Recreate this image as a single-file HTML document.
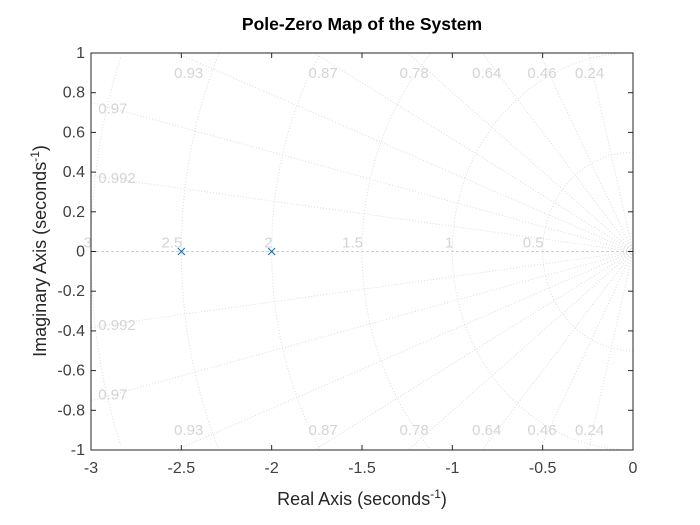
<!DOCTYPE html>
<html><head><meta charset="utf-8"><style>
html,body{margin:0;padding:0;background:#fff;overflow:hidden;width:700px;height:525px}
body{position:relative}
svg{display:block;position:absolute;left:0;top:0;font-family:"Liberation Sans",Arial,sans-serif}
</style></head><body>
<svg id="chart" width="700" height="525"></svg>
<script>
const poleReals=[-2.5,-2];
const poleImags=[0,0];
const dampingValues=[0.24,0.46,0.64,0.78,0.87,0.93,0.97,0.992];
const freqValues=[0.5,1,1.5,2,2.5,3];
const xTicks=[-3,-2.5,-2,-1.5,-1,-0.5,0];
const yTicks=[-1,-0.8,-0.6,-0.4,-0.2,0,0.2,0.4,0.6,0.8,1];

const L=91,R=633,T=53,B=450,xMin=-3,xMax=0,yMin=-1,yMax=1;
const X=v=>L+(v-xMin)/(xMax-xMin)*(R-L);
const Y=v=>B-(v-yMin)/(yMax-yMin)*(B-T);
const svg=document.getElementById('chart');
const NS='http://www.w3.org/2000/svg';
function mk(tag,attrs,parent){const e=document.createElementNS(NS,tag);for(const k in attrs)e.setAttribute(k,attrs[k]);(parent||svg).appendChild(e);return e;}

const grid=mk('g',{});


const gs={stroke:'#dcdcdc','stroke-width':1,'stroke-dasharray':'1,2',fill:'none'};
dampingValues.forEach(z=>{
  const th=Math.acos(z);
  const c=Math.cos(th),s0=Math.sin(th);
  const r=Math.min(-xMin/c, yMax/s0);
  [1,-1].forEach(s=>{
    const l=mk('line',Object.assign({x1:X(0),y1:Y(0),x2:X(-r*c),y2:Y(s*r*s0)},gs),grid);
    
    
  });
});
freqValues.forEach(w=>{
  let segs=[],cur=[];
  for(let i=0;i<=360;i++){
    const a=Math.PI/2+Math.PI*i/360;
    const x=w*Math.cos(a),y=w*Math.sin(a);
    if(x>=xMin-1e-9&&y<=yMax&&y>=yMin){cur.push(X(x).toFixed(2)+','+Y(y).toFixed(2));}
    else if(cur.length){segs.push(cur);cur=[];}
  }
  if(cur.length)segs.push(cur);
  segs.forEach(sg=>{
    const p=mk('polyline',Object.assign({points:sg.join(' ')},gs),grid);
    
    
  });
});
const zl=mk('line',{x1:L,y1:Y(0),x2:R,y2:Y(0),stroke:'#cfcfcf','stroke-dasharray':'3,2'},grid);



const lblStyle={fill:'#d4d4d4','font-size':15};
const Y0=Y(0);
dampingValues.forEach(z=>{
  const th=Math.acos(z);
  let x,y,anchor='middle';
  const yt=0.9;
  const xt=-1.08*yt/Math.tan(th);
  if(xt>-2.8){x=X(xt);y=Y(yt)+5;}
  else{const ylab=2.83*Math.tan(th);x=X(-2.96);y=Y(ylab)+3;anchor='start';}
  [1,-1].forEach(s=>{
    const t=mk('text',Object.assign({x:x,y:s>0?y:(2*Y0-y+10),'text-anchor':anchor},lblStyle));
    t.textContent=String(z);
    
    
  });
});
freqValues.forEach(w=>{
  const t=mk('text',Object.assign({x:X(-w)+1,y:Y0-4,'text-anchor':'end'},lblStyle));
  t.textContent=String(w);
  
  
});

const ax=mk('rect',{x:L,y:T,width:R-L,height:B-T,fill:'none',stroke:'#262626','stroke-width':1});


xTicks.forEach(v=>{
  mk('line',{x1:X(v),y1:B,x2:X(v),y2:B-5,stroke:'#262626'});
  mk('line',{x1:X(v),y1:T,x2:X(v),y2:T+5,stroke:'#262626'});
  const t=mk('text',{x:X(v),y:B+23,'text-anchor':'middle','font-size':16,fill:'#404040'});
  t.textContent=String(v);
  
  
});
yTicks.forEach(v=>{
  mk('line',{x1:L,y1:Y(v),x2:L+5,y2:Y(v),stroke:'#262626'});
  mk('line',{x1:R,y1:Y(v),x2:R-5,y2:Y(v),stroke:'#262626'});
  const t=mk('text',{x:L-6,y:Y(v)+5,'text-anchor':'end','font-size':16,fill:'#404040'});
  t.textContent=String(Math.round(v*10)/10);
  
  
});
poleReals.forEach((re,i)=>{
  const g=mk('g',{stroke:'#0072BD','stroke-width':1});
  
  
  const cx=X(re),cy=Y(poleImags[i]);
  mk('line',{x1:cx-3.5,y1:cy-3.5,x2:cx+3.5,y2:cy+3.5},g);
  mk('line',{x1:cx-3.5,y1:cy+3.5,x2:cx+3.5,y2:cy-3.5},g);
});
</script>
<div style="position:absolute;left:162px;width:400px;top:14px;text-align:center;font:bold 17.5px 'Liberation Sans',sans-serif;color:#000;line-height:20px">Pole-Zero Map of the System</div>
<div style="position:absolute;left:212px;width:300px;top:488px;text-align:center;font:18px 'Liberation Sans',sans-serif;color:#262626;line-height:22px">Real Axis (seconds<sup style="font-size:12px;line-height:0">-1</sup>)</div>
<div style="position:absolute;left:-70px;top:240px;width:220px;text-align:center;transform:rotate(-90deg);font:18px 'Liberation Sans',sans-serif;color:#262626;line-height:22px;white-space:nowrap">Imaginary Axis (seconds<sup style="font-size:12px;line-height:0">-1</sup>)</div>
</body></html>
